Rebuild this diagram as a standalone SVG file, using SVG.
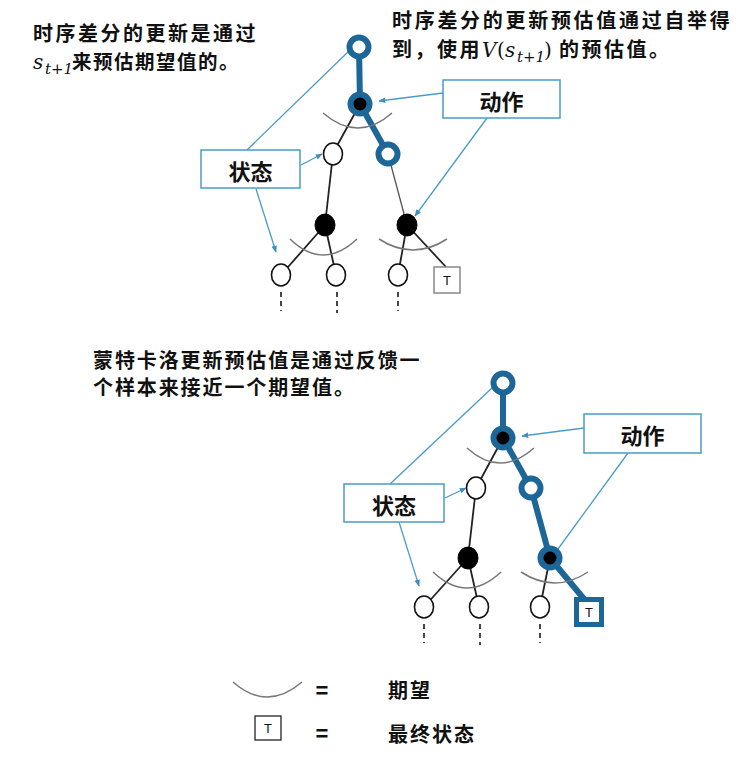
<svg xmlns="http://www.w3.org/2000/svg" width="748" height="771" viewBox="0 0 748 771">
<defs>
<marker id="arr" viewBox="0 0 10 10" refX="9" refY="5" markerWidth="7" markerHeight="7" orient="auto" markerUnits="userSpaceOnUse">
<path d="M0,1 L10,5 L0,9 z" fill="#3d8fc0"/>
</marker>
<style>
.cjk{font-family:"Noto Sans CJK SC","Noto Sans CJK JP",sans-serif;font-weight:bold;fill:#111}
.m{font-family:"DejaVu Serif","Liberation Serif",serif;font-style:italic;font-weight:normal;letter-spacing:0}
.p{font-family:"DejaVu Serif","Liberation Serif",serif;font-style:normal;font-weight:normal;letter-spacing:0}
.blue{stroke:#1c6698;stroke-width:6;fill:none;stroke-linecap:round}
.ring{stroke:#1c6698;stroke-width:6;fill:#fff}
.bact{stroke:#1c6698;stroke-width:6;fill:#000}
.st{stroke:#111;stroke-width:1.6;fill:#fff}
.act{fill:#000;stroke:#000;stroke-width:1}
.edge{stroke:#222;stroke-width:1.8;fill:none}
.arc{stroke:#777;stroke-width:1.5;fill:none}
.dash{stroke:#333;stroke-width:1.8;stroke-dasharray:5 4}
.lbl{stroke:#4a9cc8;stroke-width:1.3;fill:none}
.box{stroke:#4a9cc8;stroke-width:1.5;fill:#fff}
.t{font-family:"Liberation Sans",Arial,sans-serif;font-size:13px;fill:#111;text-anchor:middle}
.eq{font-family:"Liberation Sans",Arial,sans-serif;font-size:22px;font-weight:bold;fill:#111;text-anchor:middle}
</style>
</defs>

<!-- Texts -->
<g id="text-td">
<text class="cjk" x="33" y="41" font-size="20" letter-spacing="2.5">时序差分的更新是通过</text>
<text class="cjk" x="33" y="69" font-size="20"><tspan class="m">s</tspan><tspan class="m" x="45" dy="5" font-size="15">t+1</tspan><tspan x="72" dy="-5" font-size="19.5" letter-spacing="1.5">来预估期望值的。</tspan></text>
</g>
<g id="text-td2">
<text class="cjk" x="392" y="28" font-size="20" letter-spacing="2.7">时序差分的更新预估值通过自举得</text>
<text class="cjk" x="392" y="57" font-size="20"><tspan letter-spacing="2.5">到，使用</tspan><tspan class="m" x="482">V</tspan><tspan class="p" x="497">(</tspan><tspan class="m" x="505">s</tspan><tspan class="m" x="517" dy="5" font-size="15">t+1</tspan><tspan class="p" x="544" dy="-5">)</tspan><tspan x="559" letter-spacing="2.5">的预估值。</tspan></text>
</g>
<g id="text-mc">
<text class="cjk" x="93" y="368" font-size="20" letter-spacing="1.9">蒙特卡洛更新预估值是通过反馈一</text>
<text class="cjk" x="93" y="395" font-size="20" letter-spacing="1.9">个样本来接近一个期望值。</text>
</g>

<!-- Connectors -->
<g id="connectors">
<!-- top tree -->
<line class="blue" x1="359" y1="47" x2="360" y2="104"/>
<line class="blue" x1="360" y1="104" x2="388" y2="154"/>
<line class="edge" x1="360" y1="104" x2="333" y2="153"/>
<line class="edge" x1="333" y1="154" x2="325" y2="225"/>
<line x1="388" y1="154" x2="407" y2="225" stroke="#555" stroke-width="1.3"/>
<line class="edge" x1="325" y1="225" x2="281" y2="275"/>
<line class="edge" x1="325" y1="225" x2="336" y2="275"/>
<line class="edge" x1="407" y1="225" x2="398" y2="275"/>
<line class="edge" x1="407" y1="225" x2="446" y2="267"/>
<line class="dash" x1="281" y1="292" x2="281" y2="311"/>
<line class="dash" x1="337" y1="292" x2="337" y2="313"/>
<line class="dash" x1="398" y1="292" x2="398" y2="311"/>
<path class="arc" d="M323,113 Q358,143 392,113"/>
<path class="arc" d="M290,239 Q323,271 357,239"/>
<path class="arc" d="M379,239 Q413,261 447,239"/>
<!-- bottom tree -->
<line class="blue" x1="503" y1="383" x2="503" y2="438"/>
<line class="blue" x1="503" y1="438" x2="531" y2="488"/>
<line class="blue" x1="531" y1="488" x2="550" y2="558"/>
<line class="blue" x1="550" y1="558" x2="584" y2="599"/>
<line class="edge" x1="503" y1="438" x2="476" y2="488"/>
<line class="edge" x1="476" y1="488" x2="468" y2="558"/>
<line class="edge" x1="468" y1="558" x2="424" y2="607"/>
<line class="edge" x1="468" y1="558" x2="479" y2="607"/>
<line class="edge" x1="550" y1="558" x2="540" y2="607"/>
<line class="dash" x1="424" y1="624" x2="424" y2="643"/>
<line class="dash" x1="480" y1="624" x2="480" y2="645"/>
<line class="dash" x1="540" y1="624" x2="540" y2="643"/>
<path class="arc" d="M467,448 Q500,478 534,448"/>
<path class="arc" d="M433,572 Q467,604 501,572"/>
<path class="arc" d="M521,572 Q555,594 588,572"/>
<!-- label lines top -->
<line class="lbl" x1="247" y1="150" x2="349" y2="51"/>
<line class="lbl" x1="301" y1="165" x2="322" y2="154" marker-end="url(#arr)"/>
<line class="lbl" x1="256" y1="189" x2="276" y2="252" marker-end="url(#arr)"/>
<line class="lbl" x1="443" y1="93" x2="379" y2="101" marker-end="url(#arr)"/>
<line class="lbl" x1="487" y1="118" x2="415" y2="216" marker-end="url(#arr)"/>
<!-- label lines bottom -->
<line class="lbl" x1="390" y1="484" x2="492" y2="388"/>
<line class="lbl" x1="445" y1="498" x2="466" y2="488" marker-end="url(#arr)"/>
<line class="lbl" x1="399" y1="522" x2="419" y2="586" marker-end="url(#arr)"/>
<line class="lbl" x1="584" y1="428" x2="522" y2="436" marker-end="url(#arr)"/>
<line class="lbl" x1="628" y1="453" x2="558" y2="549"/>
</g>

<!-- Top tree nodes -->
<g id="t-root"><circle class="ring" cx="359" cy="47" r="9.5"/></g>
<g id="t-act"><circle class="bact" cx="360" cy="104" r="9.5"/></g>
<g id="t-s1"><ellipse class="st" cx="333" cy="154" rx="9.5" ry="11"/></g>
<g id="t-s2"><circle class="ring" cx="388" cy="154" r="9.5"/></g>
<g id="t-a1"><ellipse class="act" cx="325" cy="225" rx="10" ry="11"/></g>
<g id="t-a2"><ellipse class="act" cx="407" cy="225" rx="10" ry="11"/></g>
<g id="t-l1"><ellipse class="st" cx="281" cy="275" rx="9.5" ry="11"/></g>
<g id="t-l2"><ellipse class="st" cx="336" cy="275" rx="9.5" ry="11"/></g>
<g id="t-l3"><ellipse class="st" cx="398" cy="275" rx="9.5" ry="11"/></g>
<g id="t-term"><rect x="434" y="267" width="26" height="26" fill="#fff" stroke="#888" stroke-width="1.5"/><text class="t" x="447" y="285">T</text></g>
<g id="t-lbl-state"><rect class="box" x="201" y="150" width="99" height="38"/><text class="cjk" x="250.5" y="180" font-size="22" text-anchor="middle">状态</text></g>
<g id="t-lbl-action"><rect class="box" x="443" y="80" width="117" height="38"/><text class="cjk" x="501.5" y="110" font-size="22" text-anchor="middle">动作</text></g>

<!-- Bottom tree nodes -->
<g id="b-root"><circle class="ring" cx="503" cy="383" r="9.5"/></g>
<g id="b-act"><circle class="bact" cx="503" cy="438" r="9.5"/></g>
<g id="b-s1"><ellipse class="st" cx="476" cy="488" rx="9.5" ry="11"/></g>
<g id="b-s2"><circle class="ring" cx="531" cy="488" r="9.5"/></g>
<g id="b-a1"><ellipse class="act" cx="468" cy="558" rx="10" ry="11"/></g>
<g id="b-a2"><circle class="bact" cx="550" cy="558" r="9.5"/></g>
<g id="b-l1"><ellipse class="st" cx="424" cy="607" rx="9.5" ry="11"/></g>
<g id="b-l2"><ellipse class="st" cx="479" cy="607" rx="9.5" ry="11"/></g>
<g id="b-l3"><ellipse class="st" cx="540" cy="607" rx="9.5" ry="11"/></g>
<g id="b-term"><rect x="576.5" y="599.5" width="25" height="25" fill="#fff" stroke="#1c6698" stroke-width="5"/><text class="t" x="589" y="617">T</text></g>
<g id="b-lbl-state"><rect class="box" x="344" y="484" width="100" height="38"/><text class="cjk" x="394" y="514" font-size="22" text-anchor="middle">状态</text></g>
<g id="b-lbl-action"><rect class="box" x="584" y="414" width="117" height="39"/><text class="cjk" x="642.5" y="444" font-size="22" text-anchor="middle">动作</text></g>

<!-- Legend -->
<g id="legend-exp">
<path class="arc" d="M233,682 Q267,712 302,682"/>
<text class="eq" x="322" y="698">=</text>
<text class="cjk" x="388" y="698" font-size="20" letter-spacing="2">期望</text>
</g>
<g id="legend-term">
<rect x="255" y="716" width="26" height="24" fill="#fff" stroke="#222" stroke-width="1.3"/>
<text class="t" x="268" y="733">T</text>
<text class="eq" x="322" y="741">=</text>
<text class="cjk" x="388" y="742" font-size="20" letter-spacing="2">最终状态</text>
</g>
</svg>
